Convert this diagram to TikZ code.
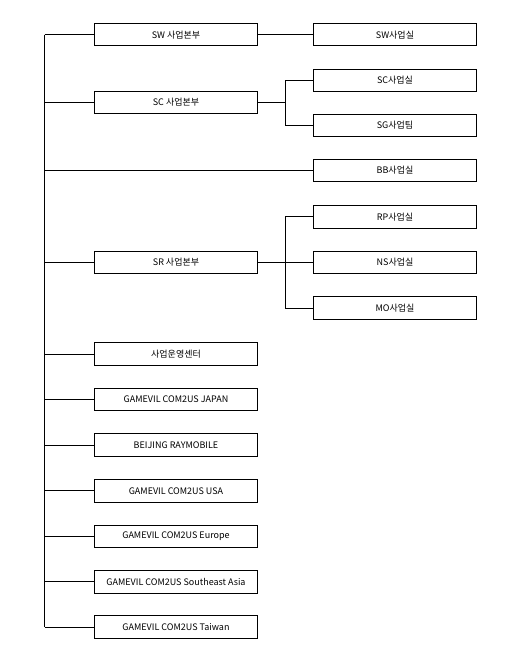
\documentclass[tikz,border=0pt]{standalone}
\usepackage{fontspec}
\setmainfont{Noto Sans CJK KR}
\usetikzlibrary{positioning}

\begin{document}
\begin{tikzpicture}[
            x=1pt, y=-1pt,
            unit/.style={rectangle, draw, line width=0.9pt, minimum width=163pt, minimum height=22.5pt, inner sep=0pt, font=\fontsize{9}{10}\selectfont},
            link/.style={line width=0.9pt}
        ]
        \useasboundingbox (0,0) rectangle (518,658);

        % Left column
        \node[unit] (sw) at (176,34.7) {SW 사업본부};
        \node[unit] (sc) at (176,102.5) {SC 사업본부};
        \node[unit] (sr) at (176,262.5) {SR 사업본부};
        \node[unit] (ops) at (176,354) {사업운영센터};
        \node[unit] (jp) at (176,399.5) {GAMEVIL COM2US JAPAN};
        \node[unit] (bj) at (176,445.1) {BEIJING RAYMOBILE};
        \node[unit] (us) at (176,490.7) {GAMEVIL COM2US USA};
        \node[unit] (eu) at (176,536.3) {GAMEVIL COM2US Europe};
        \node[unit] (sea) at (176,581.9) {GAMEVIL COM2US Southeast Asia};
        \node[unit] (tw) at (176,627) {GAMEVIL COM2US Taiwan};

        % Right column
        \node[unit] (sw_room) at (395,34.7) {SW사업실};
        \node[unit] (sc_room) at (395,80.3) {SC사업실};
        \node[unit] (sg_team) at (395,125.4) {SG사업팀};
        \node[unit] (bb_room) at (395,170.3) {BB사업실};
        \node[unit] (rp_room) at (395,216.8) {RP사업실};
        \node[unit] (ns_room) at (395,262.5) {NS사업실};
        \node[unit] (mo_room) at (395,308) {MO사업실};

        % Trunk
        \coordinate (trunk_top) at (44.7,34.7);
        \coordinate (trunk_bot) at (44.7,627);
        \draw[link] (trunk_top) -- (trunk_bot);
        \foreach \n in {sw, sc, sr, ops, jp, bj, us, eu, sea, tw}
            \draw[link] (\n.west -| trunk_top) -- (\n.west);
        \draw[link] (bb_room.west -| trunk_top) -- (bb_room.west);

        % Branches
        \draw[link] (sw.east) -- (sw_room.west);
        \coordinate (sc_fork) at (285.3,102.5);
        \draw[link] (sc.east) -- (sc_fork);
        \draw[link] (sc_fork) |- (sc_room.west);
        \draw[link] (sc_fork) |- (sg_team.west);
        \coordinate (sr_fork) at (285.3,262.5);
        \draw[link] (sr.east) -- (ns_room.west);
        \draw[link] (sr_fork) |- (rp_room.west);
        \draw[link] (sr_fork) |- (mo_room.west);
    \end{tikzpicture}
\end{document}
